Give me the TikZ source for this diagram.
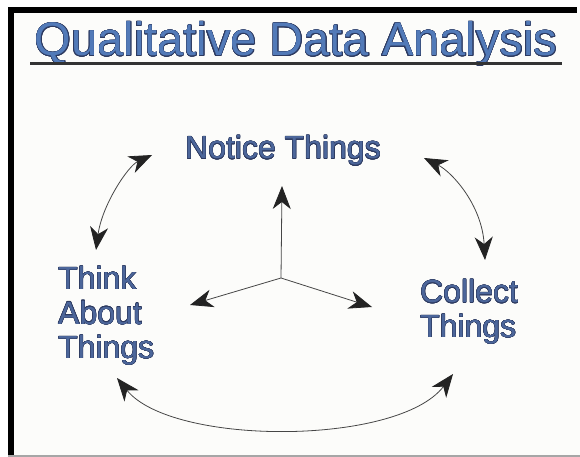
\documentclass[tikz,border=0pt]{standalone}
\usepackage{fontspec}
\setmainfont{Liberation Sans}
\usepackage{contour}
\usetikzlibrary{arrows.meta}
\definecolor{titleblue}{RGB}{82,122,184}
\definecolor{nodeblue}{RGB}{76,102,154}
\definecolor{edgeblue}{RGB}{45,58,96}
\definecolor{paper}{RGB}{252,252,250}
\definecolor{inkline}{RGB}{70,70,70}
\definecolor{inktip}{RGB}{35,35,35}
\newcommand{\ol}[1]{\contour{edgeblue}{#1}}
\tikzset{
  x=1pt, y=-1pt,
  lbl/.style={inner sep=0pt, text=nodeblue, align=left,
    font=\fontsize{32}{34.5}\selectfont},
  bigtip/.tip={Stealth[length=23pt,width=18pt,inset=7pt,fill=inktip,color=inktip]},
  conn/.style={draw=inkline, line width=0.8pt, arrows={bigtip-bigtip}},
  oneway/.style={draw=inkline, line width=0.8pt, arrows={-bigtip}}
}
\contourlength{0.35pt}
\begin{document}
\begin{tikzpicture}
\useasboundingbox (0,0) rectangle (580,457);
\fill[white] (0,0) rectangle (580,457);
\fill[paper] (14,13) rectangle (580,455);
% frame
\fill[black] (8,7) rectangle (14,455);
\fill[black] (8,7) rectangle (577,13);
\fill[gray!70] (8,455) rectangle (580,457);
% title
\node[inner sep=0pt, anchor=base, text=titleblue, font=\fontsize{47}{47}\selectfont] (title) at (296,56) {\contourlength{0.45pt}\ol{Qualitative Data Analysis}};
\fill[black!80] (30,62) rectangle (562,65.5);
% labels
\node[lbl, anchor=base] (notice) at (283,159) {\ol{Notice Things}};
\node[lbl, anchor=west] (think) at (58,316) {\ol{Think}\\\ol{About}\\\ol{Things}};
\node[lbl, anchor=west] (collect) at (420,312) {\ol{Collect}\\\ol{Things}};
% center arrows
\coordinate (c) at (281,278);
\coordinate (up) at (282,186);
\coordinate (lf) at (190,305);
\coordinate (rt) at (372,307);
\draw[oneway] (c) -- (up);
\draw[oneway] (c) -- (lf);
\draw[oneway] (c) -- (rt);
% cycle arrows
\coordinate (tla) at (152,155);
\coordinate (tlb) at (96,250);
\coordinate (tra) at (424,158);
\coordinate (trb) at (485,260);
\coordinate (bla) at (117,378);
\coordinate (blb) at (453,374);
\draw[conn] (tla) .. controls (128,166) and (102,205) .. (tlb);
\draw[conn] (tra) .. controls (452,172) and (482,205) .. (trb);
\draw[conn] (bla) .. controls (172,446) and (398,446) .. (blb);
\end{tikzpicture}
\end{document}
